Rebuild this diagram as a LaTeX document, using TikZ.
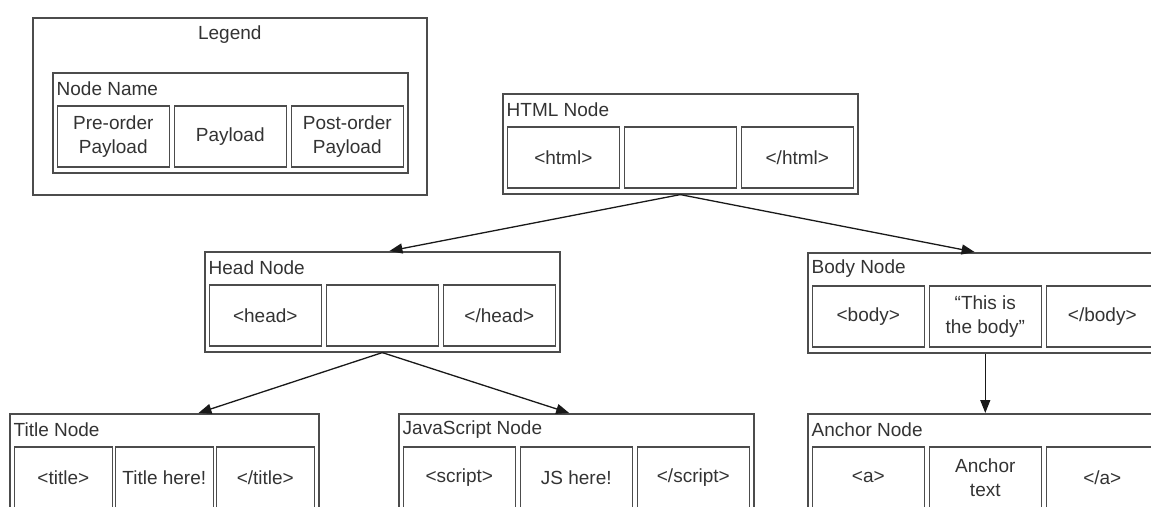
\documentclass[tikz,border=0pt]{standalone}
\usepackage{fontspec}
\setmainfont{Liberation Sans}
\usetikzlibrary{arrows.meta,calc}

% one tree node: name, left, top, width, cell width, title, three payload cells
\newcommand\tnode[9]{%
  \node[outerbox, anchor=north west, minimum width=#4pt, minimum height=100pt] (#1) at (#2pt,-#3pt) {};
  \node[titletext, anchor=west] (#1-t) at ([xshift=4.5pt,yshift=-16.5pt]#1.north west) {#6};
  \node[cellbox, minimum width=#5pt, anchor=north west] (#1-a) at ([xshift=4.5pt,yshift=-33pt]#1.north west) {#7};
  \node[cellbox, minimum width=#5pt, anchor=north] (#1-b) at ([yshift=-33pt]#1.north) {#8};
  \node[cellbox, minimum width=#5pt, anchor=north east] (#1-c) at ([xshift=-4.5pt,yshift=-33pt]#1.north east) {#9};
}

\tikzset{
  every node/.style={font=\fontsize{19}{24}\selectfont, text=black!80},
  outerbox/.style={draw=black!70, line width=1.6pt, inner sep=0pt},
  cellbox/.style={draw=black!70, line width=1.6pt, minimum height=61pt, inner sep=0pt, align=center},
  titletext/.style={inner sep=0pt},
  link/.style={draw=black!90, line width=1.3pt, -{Triangle[length=13pt, width=10pt]}},
}

\begin{document}
\begin{tikzpicture}[x=1pt, y=1pt]
  \useasboundingbox (0,0) rectangle (1151,-506);
  \clip (0,0) rectangle (1151,-506);

  % legend
  \node[outerbox, anchor=north west, minimum width=394pt, minimum height=177pt] (legend) at (32,-17) {};
  \node[titletext] (legend-t) at ([yshift=-18pt]legend.north) {Legend};
  \tnode{key}{52}{72}{355}{112}{Node Name}{Pre-order\\Payload}{Payload}{Post-order\\Payload}

  % document tree
  \tnode{html}{502}{93}{355}{112}{HTML Node}{<html>}{}{</html>}
  \tnode{head}{204}{251}{355}{112}{Head Node}{<head>}{}{</head>}
  \tnode{body}{807}{252}{355}{112}{Body Node}{<body>}{“This is\\the body”}{</body>}
  \tnode{title}{9}{413}{309}{98}{Title Node}{<title>}{Title here!}{</title>}
  \tnode{js}{398}{413}{355}{112}{JavaScript Node}{<script>}{JS here!}{</script>}
  \tnode{anchor}{807}{413}{355}{112}{Anchor Node}{<a>}{Anchor\\text}{</a>}

  % parent-child links
  \draw[link] (html.south) -- ($(head.north west)!0.52!(head.north east)$);
  \draw[link] (html.south) -- ($(body.north west)!0.47!(body.north east)$);
  \draw[link] (head.south) -- ($(title.north west)!0.61!(title.north east)$);
  \draw[link] (head.south) -- ($(js.north west)!0.48!(js.north east)$);
  \draw[link] (body.south) -- (anchor.north);
\end{tikzpicture}
\end{document}
